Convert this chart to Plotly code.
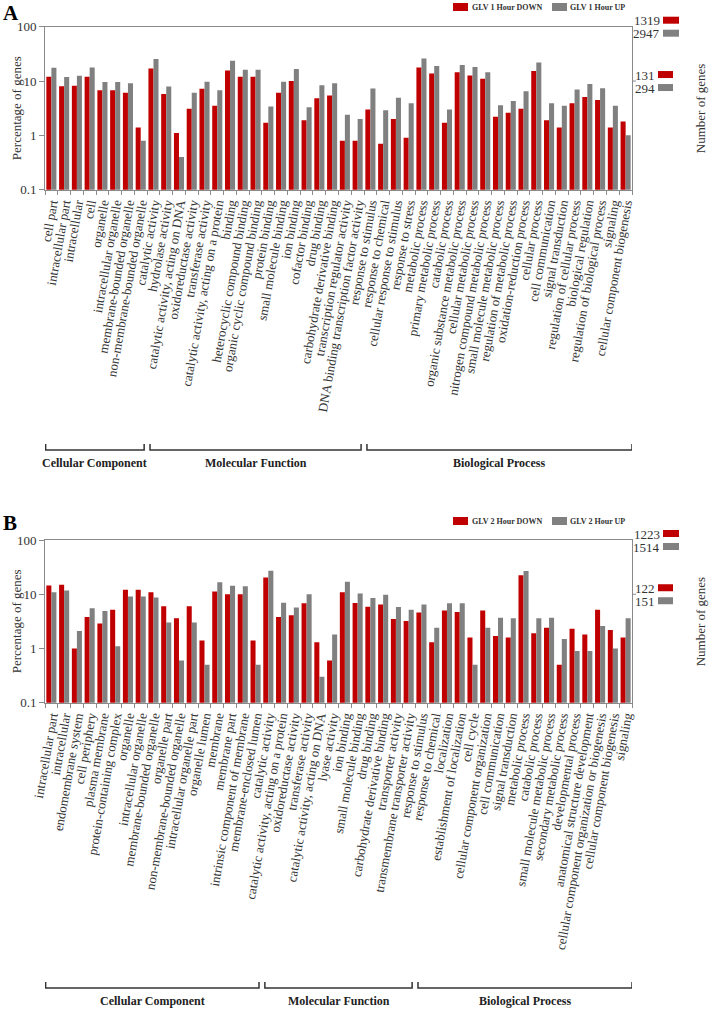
import plotly.graph_objects as go

# ---------------- data ----------------
A_categories = [
    "cell part", "intracellular part", "intracellular", "cell", "organelle",
    "intracellular organelle", "membrane-bounded organelle", "non-membrane-bounded organelle",
    "catalytic activity", "hydrolase activity", "catalytic activity, acting on DNA",
    "oxidoreductase activity", "transferase activity", "catalytic activity, acting on a protein",
    "binding", "heterocyclic compound binding", "organic cyclic compound binding",
    "protein binding", "small molecule binding", "ion binding", "cofactor binding",
    "drug binding", "carbohydrate derivative binding", "transcription regulator activity",
    "DNA binding transcription factor activity",
    "response to stimulus", "response to chemical", "cellular response to stimulus",
    "response to stress", "metabolic process", "primary metabolic process", "catabolic process",
    "organic substance metabolic process", "cellular metabolic process",
    "nitrogen compound metabolic process", "small molecule metabolic process",
    "regulation of metabolic process", "oxidation-reduction process", "cellular process",
    "cell communication", "signal transduction", "regulation of cellular process",
    "biological regulation", "regulation of biological process", "signaling",
    "cellular component biogenesis",
]
A_down = [12, 8, 8.2, 12, 6.8, 6.8, 6.1, 1.4,
          17, 5.8, 1.1, 3.1, 7.2, 3.5, 15.7, 12, 12, 1.7, 6.1, 10, 1.9, 4.8, 5.4, 0.8, 0.8,
          3.0, 0.7, 2.0, 0.9, 17.8, 13.8, 1.7, 14.5, 12.7, 11.0, 2.2, 2.6, 3.1, 15.3, 1.9,
          1.4, 3.9, 5.1, 4.5, 1.4, 1.8]
A_up = [17.6, 11.9, 12.5, 17.8, 9.6, 9.6, 9.1, 0.8,
        25.4, 7.9, 0.4, 6.1, 9.7, 6.8, 23.7, 16.2, 16.2, 3.4, 9.7, 16.6, 3.3, 8.4, 9.1, 2.4, 2.0,
        7.3, 2.9, 4.9, 3.9, 26, 18.9, 3.0, 19.7, 18.1, 14.5, 3.6, 4.3, 6.5, 22, 3.9,
        3.5, 7.0, 8.8, 7.4, 3.5, 1.0]
A_groups = ["Cellular Component", "Molecular Function", "Biological Process"]
A_group_sizes = [8, 17, 21]
A_series = ["GLV 1 Hour DOWN", "GLV 1 Hour UP"]
A_gene_counts_100 = ["1319", "2947"]
A_gene_counts_10 = ["131", "294"]

B_categories = [
    "intracellular part", "intracellular", "endomembrane system", "cell periphery",
    "plasma membrane", "protein-containing complex", "organelle", "intracellular organelle",
    "membrane-bounded organelle", "organelle part", "non-membrane-bounded organelle",
    "intracellular organelle part", "organelle lumen", "membrane", "membrane part",
    "intrinsic component of membrane", "membrane-enclosed lumen",
    "catalytic activity", "catalytic activity, acting on a protein", "oxidoreductase activity",
    "transferase activity", "catalytic activity, acting on DNA", "lyase activity",
    "ion binding", "small molecule binding", "drug binding", "carbohydrate derivative binding",
    "transporter activity", "transmembrane transporter activity",
    "response to stimulus", "response to chemical", "localization",
    "establishment of localization", "cell cycle", "cellular component organization",
    "cell communication", "signal transduction", "metabolic process", "catabolic process",
    "small molecule metabolic process", "secondary metabolic process", "developmental process",
    "anatomical structure development", "cellular component organization or biogenesis",
    "cellular component biogenesis", "signaling",
]
B_down = [14.5, 15, 1.0, 3.8, 2.9, 5.2, 12.1, 12.1, 10.9, 6.0, 3.6, 6.0, 1.4, 11.2, 10, 10, 1.4,
          20.4, 3.8, 4.1, 6.8, 1.3, 0.6, 10.9, 6.9, 5.9, 6.5, 3.5, 3.2,
          4.6, 1.3, 5.0, 4.7, 1.6, 5.0, 1.7, 1.6, 22.5, 1.9, 2.4, 0.5, 2.3, 1.8, 5.2, 2.2, 1.6]
B_up = [10.9, 11.7, 2.1, 5.5, 4.9, 1.1, 9.1, 9.1, 8.7, 3.0, 0.6, 3.0, 0.5, 16.7, 14.3, 14.1, 0.5,
        27, 7.0, 5.7, 10, 0.3, 1.8, 17, 10.3, 8.5, 9.8, 5.8, 5.2,
        6.5, 2.4, 6.8, 6.8, 0.5, 2.4, 3.7, 3.6, 26.7, 3.6, 3.7, 1.5, 0.9, 0.9, 2.6, 1.0, 3.6]
B_groups = ["Cellular Component", "Molecular Function", "Biological Process"]
B_group_sizes = [17, 12, 17]
B_series = ["GLV 2 Hour DOWN", "GLV 2 Hour UP"]
B_gene_counts_100 = ["1223", "1514"]
B_gene_counts_10 = ["122", "151"]

# ---------------- styling ----------------
W, H = 709, 1009
RED = "#C00000"
GRAY = "#808080"
AXC = "#8a8a8a"
TXT = "#333333"
FONT = "Liberation Serif"


def fx(p):
    return p / W


def fy(p):
    return 1 - p / H


X_LEFT, X_RIGHT = 45, 632
panels = [
    dict(label="A", cats=A_categories, down=A_down, up=A_up, groups=A_groups,
         sizes=A_group_sizes, series=A_series, c100=A_gene_counts_100, c10=A_gene_counts_10,
         top=26.7, bottom=189.7, legend_y=7, brk_y=450, brk_text_y=463, label_y=13,
         xa="x", ya="y", xk="xaxis", yk="yaxis"),
    dict(label="B", cats=B_categories, down=B_down, up=B_up, groups=B_groups,
         sizes=B_group_sizes, series=B_series, c100=B_gene_counts_100, c10=B_gene_counts_10,
         top=540, bottom=702.7, legend_y=521, brk_y=988, brk_text_y=1001, label_y=523,
         xa="x2", ya="y2", xk="xaxis2", yk="yaxis2"),
]

fig = go.Figure()
shapes = []
annotations = []
layout_axes = {}

for p in panels:
    fig.add_trace(go.Bar(x=p["cats"], y=p["down"], name=p["series"][0], marker_color=RED,
                         marker_line_width=0, xaxis=p["xa"], yaxis=p["ya"], showlegend=False))
    fig.add_trace(go.Bar(x=p["cats"], y=p["up"], name=p["series"][1], marker_color=GRAY,
                         marker_line_width=0, xaxis=p["xa"], yaxis=p["ya"], showlegend=False))

    layout_axes[p["xk"]] = dict(
        domain=[fx(X_LEFT), fx(X_RIGHT)], anchor=p["ya"], type="category",
        tickmode="array", tickvals=p["cats"], ticktext=p["cats"],
        tickson="boundaries", ticks="outside", ticklen=4, tickcolor=AXC,
        showline=True, linecolor=AXC, linewidth=1, mirror=True, automargin=False,
        tickangle=-80, tickfont=dict(family=FONT, size=13, color=TXT),
        showgrid=False, range=[-0.5, len(p["cats"]) - 0.5],
    )
    layout_axes[p["yk"]] = dict(
        domain=[fy(p["bottom"]), fy(p["top"])], anchor=p["xa"], type="log",
        range=[-1, 2], tickvals=[0.1, 1, 10, 100], ticktext=["0.1", "1", "10", "100"],
        ticks="outside", ticklen=5, tickcolor=AXC, showline=True, linecolor=AXC,
        linewidth=1, mirror=True, showgrid=False, zeroline=False, automargin=False,
        tickfont=dict(family=FONT, size=13, color=TXT),
    )

    # y-axis title
    annotations.append(dict(text="Percentage of genes", x=fx(16), y=fy((p["top"] + p["bottom"]) / 2),
                            xref="paper", yref="paper", xanchor="center", yanchor="middle",
                            textangle=-90, showarrow=False, borderpad=0,
                            font=dict(family=FONT, size=13, color=TXT)))

    # panel letter
    annotations.append(dict(text=f"<b>{p['label']}</b>", x=fx(1), y=fy(p["label_y"]),
                            xref="paper", yref="paper", xanchor="left", yanchor="middle",
                            showarrow=False, font=dict(family=FONT, size=21, color="black")))

    # legend
    ly = p["legend_y"]
    for (sx0, sx1, tx, col, name) in [(453, 468, 471, RED, p["series"][0]),
                                      (552, 567, 569, GRAY, p["series"][1])]:
        shapes.append(dict(type="rect", xref="paper", yref="paper", x0=fx(sx0), x1=fx(sx1),
                           y0=fy(ly + 4), y1=fy(ly - 4), fillcolor=col, line_width=0))
        annotations.append(dict(text=f"<b>{name}</b>", x=fx(tx), y=fy(ly), xref="paper",
                                yref="paper", xanchor="left", yanchor="middle", showarrow=False,
                                borderpad=0, font=dict(family=FONT, size=8, color=TXT)))

    # right-side gene counts
    dec = (p["bottom"] - p["top"]) / 3.0
    y100 = p["top"]
    y10 = p["top"] + dec
    shapes.append(dict(type="line", xref="paper", yref="paper", x0=fx(X_RIGHT), x1=fx(X_RIGHT + 4),
                       y0=fy(y10), y1=fy(y10), line=dict(color=AXC, width=1)))
    for (yc, labels, sx0, sx1) in [(y100, p["c100"], 663, 679), (y10, p["c10"], 658, 673)]:
        for k, (txt, col) in enumerate(zip(labels, [RED, GRAY])):
            yy = yc - 6.5 + 13 * k
            annotations.append(dict(text=txt, x=fx(sx0 - 2), y=fy(yy), xref="paper", yref="paper",
                                    xanchor="right", yanchor="middle", showarrow=False,
                                    borderpad=0, height=12,
                                    font=dict(family=FONT, size=13, color=TXT)))
            shapes.append(dict(type="rect", xref="paper", yref="paper", x0=fx(sx0), x1=fx(sx1),
                               y0=fy(yy + 3.5), y1=fy(yy - 3.5), fillcolor=col, line_width=0))
    annotations.append(dict(text="Number of genes", x=fx(700), y=fy((p["top"] + p["bottom"]) / 2),
                            xref="paper", yref="paper", xanchor="center", yanchor="middle",
                            textangle=-90, showarrow=False, borderpad=0,
                            font=dict(family=FONT, size=13, color=TXT)))

    # group brackets
    n = len(p["cats"])
    start = 0
    for gi, (gname, size) in enumerate(zip(p["groups"], p["sizes"])):
        end = start + size - 1
        x0 = -0.45 if gi == 0 else start - 0.27
        x1 = n - 0.5 if gi == len(p["sizes"]) - 1 else end + 0.27
        by = p["brk_y"]
        shapes.append(dict(type="path", xref=p["xa"], yref="paper",
                           path=f"M {x0},{fy(by - 6)} L {x0},{fy(by)} L {x1},{fy(by)} L {x1},{fy(by - 6)}",
                           line=dict(color="#333333", width=1.5)))
        annotations.append(dict(text=f"<b>{gname}</b>", x=(x0 + x1) / 2, y=fy(p["brk_text_y"]),
                                xref=p["xa"], yref="paper", xanchor="center", yanchor="middle",
                                showarrow=False, borderpad=0,
                                font=dict(family=FONT, size=12, color="#222222")))
        start += size

fig.update_layout(
    width=W, height=H, margin=dict(l=0, r=0, t=0, b=0, autoexpand=False),
    paper_bgcolor="white", plot_bgcolor="white",
    barmode="group", bargap=0.21, bargroupgap=0,
    font=dict(family=FONT, color=TXT),
    shapes=shapes, annotations=annotations, showlegend=False,
    **layout_axes,
)

fig.write_html("out.html", config={"displayModeBar": False},
               post_script="document.body.style.margin='0';document.body.style.overflow='hidden';")
